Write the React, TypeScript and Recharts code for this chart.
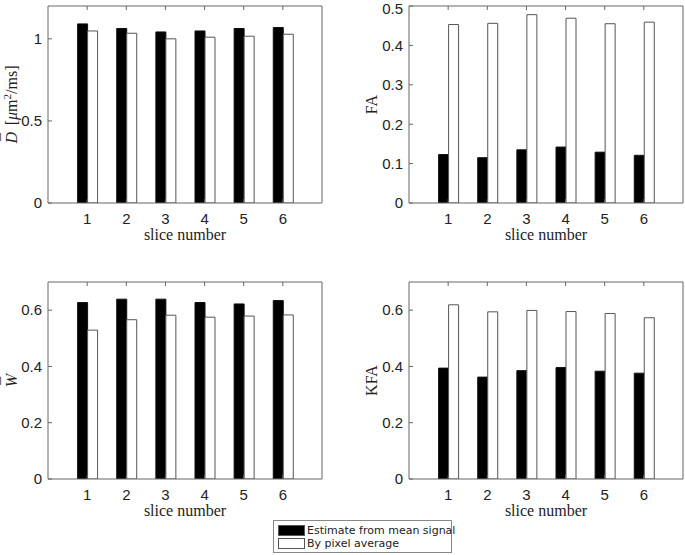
import React from 'react';
import { BarChart, Bar, XAxis, YAxis, Label } from 'recharts';

const slices = ['1', '2', '3', '4', '5', '6'];
const seriesNames = ['Estimate from mean signal', 'By pixel average'];

const dEst = [1.091, 1.063, 1.042, 1.048, 1.063, 1.069];
const dPix = [1.048, 1.034, 1.0, 1.01, 1.016, 1.028];
const faEst = [0.123, 0.115, 0.135, 0.142, 0.129, 0.121];
const faPix = [0.453, 0.456, 0.478, 0.469, 0.455, 0.459];
const wEst = [0.627, 0.639, 0.639, 0.627, 0.622, 0.634];
const wPix = [0.529, 0.566, 0.582, 0.575, 0.579, 0.583];
const kfaEst = [0.394, 0.362, 0.385, 0.396, 0.383, 0.376];
const kfaPix = [0.619, 0.594, 0.599, 0.595, 0.588, 0.573];

const dTicks = [0, 0.5, 1];
const faTicks = [0, 0.1, 0.2, 0.3, 0.4, 0.5];
const wTicks = [0, 0.2, 0.4, 0.6];
const kfaTicks = [0, 0.2, 0.4, 0.6];

const AXIS = '#666';
const TXT = '#222';
const SANS = '"Liberation Sans", Arial, sans-serif';
const SERIF = '"Liberation Serif", "Times New Roman", serif';

type PanelProps = {
  left: number;
  top: number;
  est: number[];
  pix: number[];
  ticks: number[];
  yMax: number;
  yLabel: React.ReactNode;
  labelGap: number;
};

function Panel({ left, top, est, pix, ticks, yMax, yLabel, labelGap }: PanelProps) {
  const data = slices.map((s, i) => ({ slice: s, est: est[i], pix: pix[i] }));
  return (
    <div style={{ position: 'absolute', left, top }}>
      <BarChart
        width={345}
        height={249}
        data={data}
        margin={{ top: 5, right: 22, left: 8, bottom: 6 }}
        barGap={0}
      >
        <XAxis
          xAxisId="b"
          dataKey="slice"
          orientation="bottom"
          height={40}
          interval={0}
          padding={{ left: 19.6, right: 19.6 }}
          axisLine={{ stroke: AXIS }}
          tickLine={{ stroke: AXIS }}
          tickSize={-4}
          tickMargin={14}
          tick={{ fill: TXT, fontSize: 15, fontFamily: SANS }}
        >
          <Label
            content={(p: any) => {
              const vb = p.viewBox;
              return (
                <text
                  x={vb.x + vb.width / 2}
                  y={vb.y + 37}
                  textAnchor="middle"
                  fontFamily={SERIF}
                  fontSize={16}
                  fill={TXT}
                >
                  slice number
                </text>
              );
            }}
          />
        </XAxis>
        <XAxis
          xAxisId="t"
          dataKey="slice"
          orientation="top"
          height={1}
          interval={0}
          padding={{ left: 19.6, right: 19.6 }}
          axisLine={{ stroke: AXIS }}
          tickLine={{ stroke: AXIS }}
          tickSize={-4}
          tickFormatter={() => ''}
        />
        <YAxis
          yAxisId="l"
          orientation="left"
          width={40}
          domain={[0, yMax]}
          ticks={ticks}
          allowDataOverflow
          axisLine={{ stroke: AXIS }}
          tickLine={{ stroke: AXIS }}
          tickSize={-4}
          tickMargin={10}
          tick={{ fill: TXT, fontSize: 15, fontFamily: SANS }}
        >
          <Label
            content={(p: any) => {
              const vb = p.viewBox;
              const bx = vb.x + vb.width - labelGap;
              const cy = vb.y + vb.height / 2;
              return (
                <text
                  x={bx}
                  y={cy}
                  transform={`rotate(-90 ${bx} ${cy})`}
                  textAnchor="middle"
                  fontFamily={SERIF}
                  fontSize={16}
                  fill={TXT}
                >
                  {yLabel}
                </text>
              );
            }}
          />
        </YAxis>
        <YAxis
          yAxisId="r"
          orientation="right"
          width={1}
          domain={[0, yMax]}
          ticks={ticks}
          axisLine={{ stroke: AXIS }}
          tickLine={{ stroke: AXIS }}
          tickSize={-4}
          tickFormatter={() => ''}
        />
        <Bar
          xAxisId="b"
          yAxisId="l"
          dataKey="est"
          name={seriesNames[0]}
          barSize={10}
          fill="#000"
          stroke="#111"
          isAnimationActive={false}
        />
        <Bar
          xAxisId="b"
          yAxisId="l"
          dataKey="pix"
          name={seriesNames[1]}
          barSize={10}
          fill="#fff"
          stroke="#555"
          isAnimationActive={false}
        />
      </BarChart>
    </div>
  );
}

const dLabel = (
  <>
    <tspan fontStyle="italic">D</tspan>
    <tspan dx={-9} dy={-4}>¯</tspan>
    <tspan dx={3.7} dy={4}> [</tspan>
    <tspan fontStyle="italic">μ</tspan>
    <tspan>m</tspan>
    <tspan dy={-6} fontSize={11}>2</tspan>
    <tspan dy={6}>/ms]</tspan>
  </>
);
const wLabel = (
  <>
    <tspan fontStyle="italic">W</tspan>
    <tspan dx={-11} dy={-4}>¯</tspan>
  </>
);

export default function App() {
  return (
    <div
      style={{
        position: 'absolute',
        left: 0,
        top: 0,
        width: 685,
        height: 555,
        overflow: 'hidden',
        background: '#fff',
      }}
    >
      <Panel left={0} top={0} est={dEst} pix={dPix} ticks={dTicks} yMax={1.2} yLabel={dLabel} labelGap={31} />
      <Panel left={361} top={0} est={faEst} pix={faPix} ticks={faTicks} yMax={0.5} yLabel="FA" labelGap={32} />
      <Panel left={0} top={276} est={wEst} pix={wPix} ticks={wTicks} yMax={0.7} yLabel={wLabel} labelGap={31} />
      <Panel left={361} top={276} est={kfaEst} pix={kfaPix} ticks={kfaTicks} yMax={0.7} yLabel="KFA" labelGap={32} />
      <div
        style={{
          position: 'absolute',
          left: 273,
          top: 520,
          width: 177,
          height: 31,
          border: '1px solid #888',
          background: '#fff',
          fontFamily: '"DejaVu Sans", Verdana, sans-serif',
          fontSize: 11,
          color: '#222',
        }}
      >
        {seriesNames.map((n, i) => (
          <div
            key={n}
            style={{
              position: 'absolute',
              left: 4,
              top: 4 + i * 13,
              height: 11,
              display: 'flex',
              alignItems: 'center',
              whiteSpace: 'nowrap',
            }}
          >
            <span
              style={{
                display: 'inline-block',
                width: 25,
                height: 9,
                background: i === 0 ? '#000' : '#fff',
                border: '1px solid #555',
                marginRight: 2,
              }}
            />
            <span>{n}</span>
          </div>
        ))}
      </div>
    </div>
  );
}
